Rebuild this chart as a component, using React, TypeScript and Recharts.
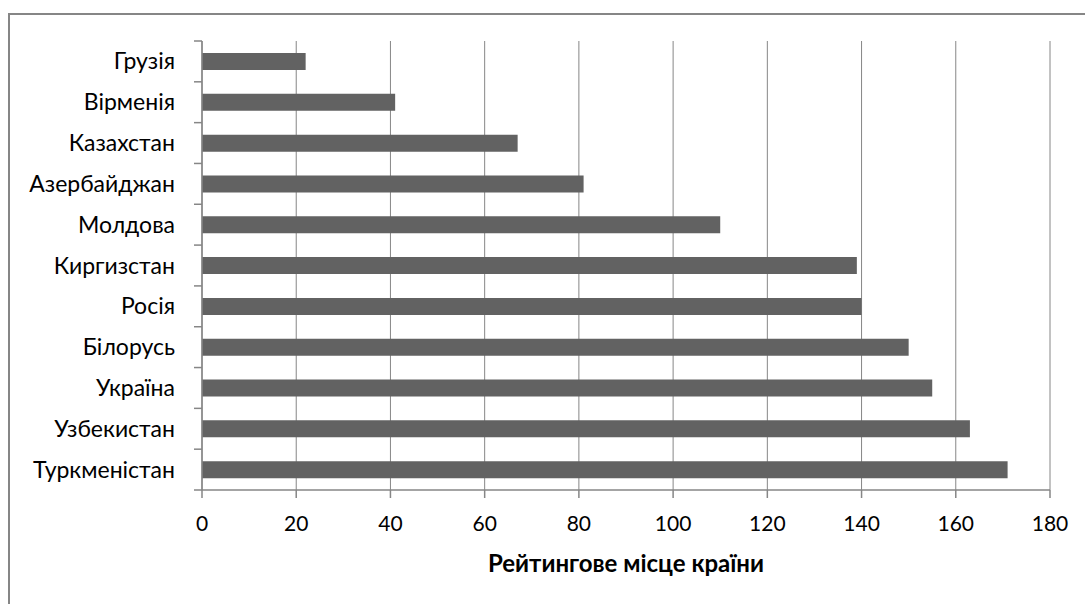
import React from "react";
import {
  BarChart,
  Bar,
  XAxis,
  YAxis,
  CartesianGrid,
  Label,
} from "recharts";

// Рейтинг країн (місце у світовому рейтингу)
const countries = [
  "Грузія",
  "Вірменія",
  "Казахстан",
  "Азербайджан",
  "Молдова",
  "Киргизстан",
  "Росія",
  "Білорусь",
  "Україна",
  "Узбекистан",
  "Туркменістан",
];
const ranks = [22, 41, 67, 81, 110, 139, 140, 150, 155, 163, 171];
const xTicks = [0, 20, 40, 60, 80, 100, 120, 140, 160, 180];

const data = countries.map((name, i) => ({ name, rank: ranks[i] }));

const W = 1085;
const H = 604;
const MARGIN = { top: 41, right: 35, bottom: 49, left: 8 };
const Y_AXIS_W = 194;
const X_AXIS_H = 65;
const AXIS_X = MARGIN.left + Y_AXIS_W;
const BAND = (H - MARGIN.top - MARGIN.bottom - X_AXIS_H) / countries.length;

const GRAY = "#868686";
const FONT = "Lato, 'Open Sans', sans-serif";

// category label plus Excel-style tick marks on the band edges
function CategoryTick(props: any) {
  const { x, y, payload, index } = props;
  const top = y - BAND / 2;
  const bottom = y + BAND / 2;
  return (
    <g>
      <line
        x1={AXIS_X - 8}
        x2={AXIS_X}
        y1={top}
        y2={top}
        stroke={GRAY}
        strokeWidth={1.5}
      />
      {index === countries.length - 1 && (
        <line
          x1={AXIS_X - 8}
          x2={AXIS_X}
          y1={bottom}
          y2={bottom}
          stroke={GRAY}
          strokeWidth={1.5}
        />
      )}
      <text
        x={x}
        y={y}
        dy="0.35em"
        textAnchor="end"
        fill="#000"
        fontSize={23}
        fontFamily={FONT}
      >
        {payload.value}
      </text>
    </g>
  );
}

export default function App() {
  return (
    <div
      style={{
        position: "absolute",
        left: 0,
        top: 0,
        width: W,
        height: H,
        overflow: "hidden",
        background: "#fff",
      }}
    >
      <div
        style={{
          position: "absolute",
          left: 8,
          top: 13,
          width: 1200,
          height: 700,
          border: `2px solid ${GRAY}`,
        }}
      />
      <div style={{ position: "absolute", left: 0, top: 0 }}>
        <BarChart
          width={W}
          height={H}
          data={data}
          layout="vertical"
          margin={MARGIN}
          barSize={17}
        >
          <CartesianGrid horizontal={false} stroke={GRAY} strokeWidth={1} />
          <XAxis
            type="number"
            domain={[0, 180]}
            ticks={xTicks}
            height={X_AXIS_H}
            stroke={GRAY}
            strokeWidth={1.5}
            tickSize={8}
            tickMargin={18}
            tick={{ fill: "#000", fontSize: 21, fontFamily: FONT }}
          >
            <Label
              value="Рейтингове місце країни"
              position="bottom"
              offset={0}
              style={{
                fill: "#000",
                fontSize: 24,
                fontWeight: 700,
                fontFamily: FONT,
              }}
            />
          </XAxis>
          <YAxis
            type="category"
            dataKey="name"
            width={Y_AXIS_W}
            stroke={GRAY}
            strokeWidth={1.5}
            tickLine={false}
            tickMargin={21}
            tick={<CategoryTick />}
          />
          <Bar dataKey="rank" fill="#626262" isAnimationActive={false} />
        </BarChart>
      </div>
    </div>
  );
}
